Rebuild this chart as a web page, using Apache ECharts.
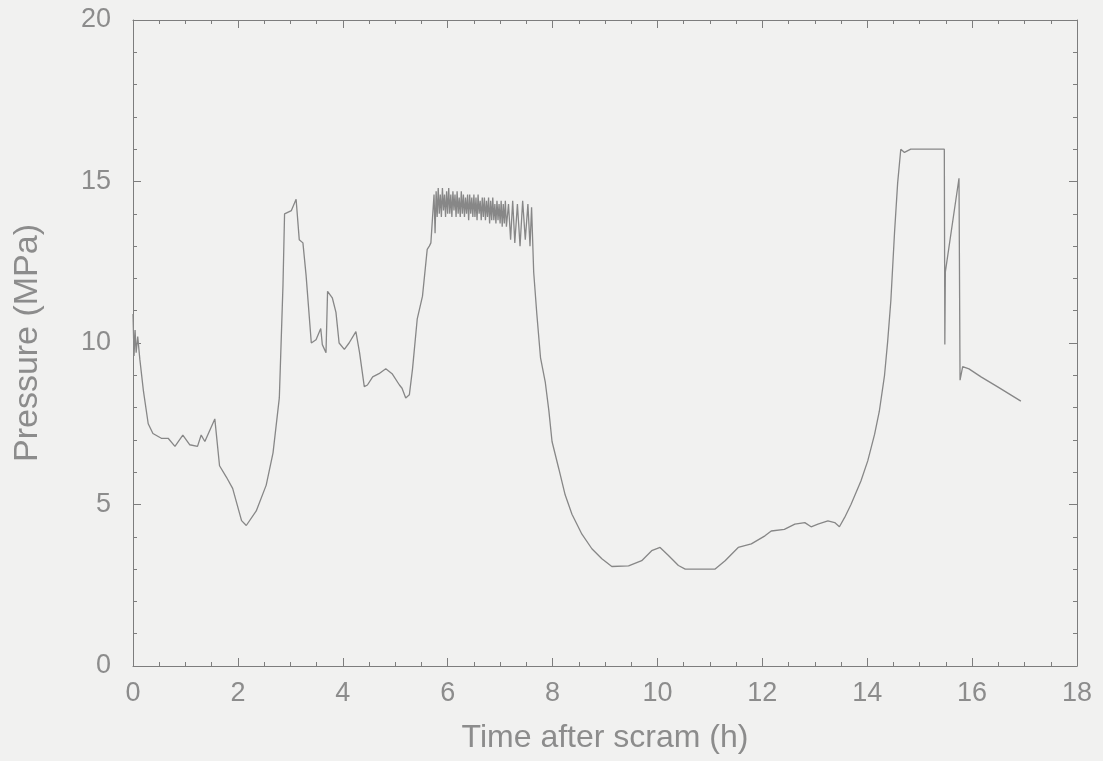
<!DOCTYPE html>
<html>
<head>
<meta charset="utf-8">
<script src="https://cdn.jsdelivr.net/npm/echarts@6/dist/echarts.min.js"></script>
<style>
  html, body { margin: 0; padding: 0; background: #f1f1f0; }
  #chart { width: 1103px; height: 761px; }
</style>
</head>
<body>
<div id="chart"></div>
<script>
// [time after scram (h), pressure (MPa)], in segments
const earlyTransient = [
  [0, 10.9], [0.02, 9.6], [0.04, 10.4], [0.06, 9.7], [0.09, 10.2], [0.13, 9.5], [0.2, 8.5],
  [0.29, 7.5], [0.38, 7.2], [0.54, 7.05], [0.67, 7.05], [0.8, 6.8], [0.95, 7.15], [1.08, 6.85],
  [1.23, 6.8], [1.3, 7.15], [1.37, 6.95], [1.56, 7.65], [1.65, 6.2], [1.78, 5.85], [1.9, 5.5],
  [2.07, 4.5], [2.16, 4.35], [2.35, 4.8], [2.54, 5.6], [2.67, 6.6], [2.79, 8.3], [2.86, 11.8],
  [2.89, 14.0], [3.02, 14.1], [3.11, 14.45], [3.17, 13.2], [3.24, 13.1], [3.3, 12.1], [3.4, 10.0],
  [3.49, 10.1], [3.58, 10.45], [3.61, 9.95], [3.68, 9.7], [3.71, 11.6], [3.8, 11.4], [3.87, 10.95],
  [3.93, 10.0], [4.03, 9.8], [4.12, 10.0], [4.25, 10.35], [4.32, 9.7], [4.41, 8.65], [4.47, 8.7],
  [4.57, 8.95], [4.69, 9.05], [4.82, 9.2], [4.94, 9.05], [5.08, 8.7], [5.13, 8.6], [5.2, 8.3],
  [5.27, 8.4], [5.33, 9.2], [5.42, 10.75], [5.52, 11.45], [5.61, 12.9], [5.65, 13.0], [5.68, 13.1]
];

const noisyPlateau = [
  [5.74, 14.6], [5.76, 13.4], [5.78, 14.7], [5.8, 13.9], [5.82, 14.8], [5.84, 14.0], [5.86, 14.6],
  [5.88, 13.9], [5.9, 14.8], [5.92, 14.1], [5.94, 14.6], [5.96, 13.9], [5.98, 14.7], [6.0, 14.0],
  [6.02, 14.8], [6.04, 14.0], [6.06, 14.6], [6.08, 13.9], [6.1, 14.7], [6.12, 14.1], [6.14, 14.6],
  [6.16, 13.9], [6.18, 14.7], [6.2, 14.0], [6.22, 14.5], [6.24, 13.9], [6.26, 14.7], [6.28, 14.0],
  [6.3, 14.6], [6.32, 13.9], [6.34, 14.5], [6.36, 14.0], [6.38, 14.6], [6.4, 13.8], [6.42, 14.6],
  [6.44, 14.0], [6.46, 14.5], [6.48, 13.9], [6.5, 14.6], [6.52, 13.9], [6.54, 14.5], [6.56, 13.8],
  [6.58, 14.6], [6.6, 14.0], [6.62, 14.4], [6.64, 13.8], [6.66, 14.5], [6.68, 13.9], [6.7, 14.5],
  [6.72, 13.8], [6.74, 14.4], [6.76, 13.9], [6.78, 14.5], [6.8, 13.7], [6.82, 14.4], [6.84, 13.8],
  [6.86, 14.5], [6.88, 13.8], [6.9, 14.3], [6.92, 13.7], [6.94, 14.4], [6.96, 13.8], [6.98, 14.3],
  [7.0, 13.7], [7.02, 14.4], [7.04, 13.6], [7.06, 14.3], [7.08, 13.7], [7.1, 14.4], [7.12, 13.6],
  [7.16, 14.3], [7.2, 13.2], [7.24, 14.4], [7.28, 13.1], [7.33, 14.3], [7.38, 13.0], [7.43, 14.4],
  [7.48, 13.2], [7.53, 14.3], [7.57, 13.0], [7.6, 14.2], [7.62, 13.2]
];

const longDepressurisation = [
  [7.64, 12.2], [7.7, 10.9], [7.77, 9.55], [7.86, 8.8], [7.93, 7.9], [7.99, 6.95], [8.12, 6.1],
  [8.24, 5.3], [8.37, 4.7], [8.56, 4.08], [8.75, 3.63], [8.94, 3.32], [9.13, 3.08], [9.45, 3.1],
  [9.7, 3.26], [9.89, 3.57], [10.05, 3.67], [10.21, 3.42], [10.4, 3.11], [10.53, 3.0], [10.84, 3.0],
  [11.1, 3.0], [11.29, 3.26], [11.54, 3.67], [11.79, 3.78], [12.05, 4.03], [12.17, 4.18],
  [12.42, 4.23], [12.62, 4.39], [12.81, 4.44], [12.93, 4.31], [13.06, 4.39], [13.25, 4.49],
  [13.38, 4.44], [13.47, 4.31], [13.57, 4.6], [13.69, 5.0], [13.88, 5.73], [14.01, 6.35],
  [14.14, 7.17], [14.23, 7.88], [14.33, 9.0], [14.39, 10.05], [14.45, 11.3], [14.52, 13.4],
  [14.58, 14.95]
];

const finalPhase = [
  [14.64, 16.0], [14.71, 15.9], [14.83, 16.0], [15.47, 16.0], [15.48, 9.95], [15.49, 12.2],
  [15.75, 15.1], [15.77, 8.85], [15.82, 9.27], [15.94, 9.2], [16.17, 8.95], [16.48, 8.65],
  [16.93, 8.2]
];

const xTicks = [0, 2, 4, 6, 8, 10, 12, 14, 16, 18];
const yTicks = [0, 5, 10, 15, 20];

const seriesData = earlyTransient.concat(noisyPlateau, longDepressurisation, finalPhase);

const axisColor = "#7d7d7d";
const textColor = "#8c8c8c";
const font = "'Liberation Sans', Arial, sans-serif";

function frameAxis(extra) {
  return Object.assign({
    type: "value",
    axisLine: { show: true, onZero: false, lineStyle: { color: axisColor, width: 1 } },
    axisTick: { show: true, inside: true, length: 8, lineStyle: { color: axisColor } },
    splitLine: { show: false },
  }, extra);
}

const chart = echarts.init(document.getElementById("chart"));
chart.setOption({
  backgroundColor: "#f1f1f0",
  animation: false,
  grid: { left: 133, right: 26, top: 20, bottom: 95 },
  xAxis: [
    frameAxis({
      min: xTicks[0],
      max: xTicks[xTicks.length - 1],
      interval: 2,
      name: "Time after scram (h)",
      nameLocation: "middle",
      nameGap: 56,
      nameTextStyle: { color: textColor, fontSize: 32, fontFamily: font },
      minorTick: { show: true, splitNumber: 4, length: 4, lineStyle: { color: axisColor } },
      axisLabel: { color: textColor, fontSize: 27, fontFamily: font, margin: 14 },
    }),
    frameAxis({
      position: "top",
      min: xTicks[0],
      max: xTicks[xTicks.length - 1],
      interval: 2,
      minorTick: { show: true, splitNumber: 4, length: 4, lineStyle: { color: axisColor } },
      axisLabel: { show: false },
    }),
  ],
  yAxis: [
    frameAxis({
      min: yTicks[0],
      max: yTicks[yTicks.length - 1],
      interval: 5,
      name: "Pressure (MPa)",
      nameLocation: "middle",
      nameGap: 88,
      nameTextStyle: { color: textColor, fontSize: 34, fontFamily: font },
      minorTick: { show: true, splitNumber: 5, length: 4, lineStyle: { color: axisColor } },
      axisLabel: { color: textColor, fontSize: 27, fontFamily: font, margin: 22 },
    }),
    frameAxis({
      position: "right",
      min: yTicks[0],
      max: yTicks[yTicks.length - 1],
      interval: 5,
      minorTick: { show: true, splitNumber: 5, length: 4, lineStyle: { color: axisColor } },
      axisLabel: { show: false },
    }),
  ],
  series: [
    {
      name: "Pressure",
      type: "line",
      xAxisIndex: 0,
      yAxisIndex: 0,
      data: seriesData,
      showSymbol: false,
      symbol: "none",
      lineStyle: { color: "#878787", width: 1.3 },
    },
    {
      // keeps the top/right frame axes drawn
      name: "frame",
      type: "line",
      xAxisIndex: 1,
      yAxisIndex: 1,
      data: [],
      symbol: "none",
    },
  ],
});
</script>
</body>
</html>
